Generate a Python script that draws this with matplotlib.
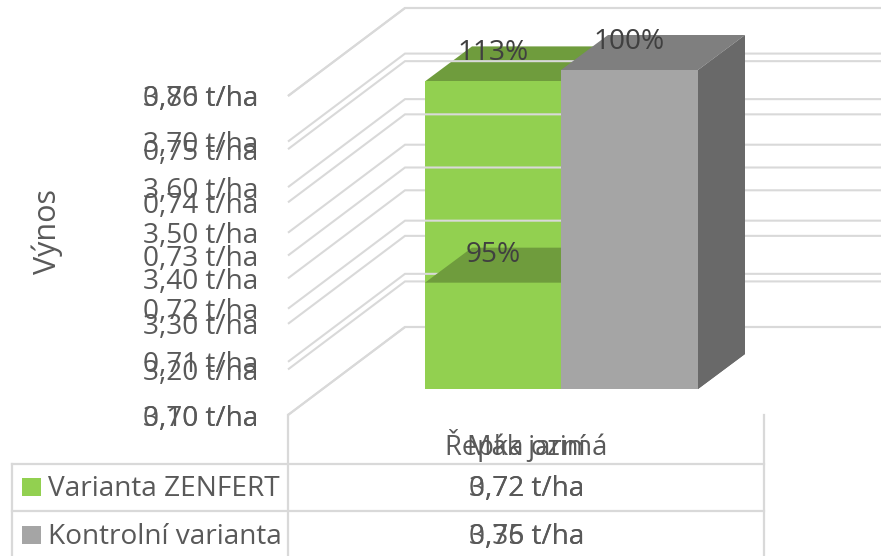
import matplotlib
matplotlib.use("Agg")
from matplotlib import pyplot as plt

# two charts lying on top of each other in the source picture
categories = ["Řepka ozimá", "Mák jarní"]
series = ["Varianta ZENFERT", "Kontrolní varianta"]

repka_ticks = [3.10, 3.20, 3.30, 3.40, 3.50, 3.60, 3.70, 3.80]
mak_ticks = [0.70, 0.71, 0.72, 0.73, 0.74, 0.75, 0.76]

repka_values = [3.775, 3.35]
mak_values = [0.72, 0.76]
repka_labels = ["113%", "100%"]
mak_labels = ["95%", "100%"]
repka_table = ["3,72 t/ha", "3,35 t/ha"]
mak_table = ["0,72 t/ha", "0,76 t/ha"]

TEXT = "#595959"
LABEL = "#404040"
GRID = "#D9D9D9"
front_cols = ["#92D050", "#A5A5A5"]
top_cols = ["#6F9C3D", "#7F7F7F"]
side_cols = ["#5F8A30", "#696969"]
FONT = "Open Sans"

# 3d layout in image pixels
FLOOR = 415
WALL_H = 319
LEFT = 288
DX, DY = 117, 88
GRID_END = 881
BAR_X = [425, 561, 698]
BAR_BASE = 389
BAR_DX, BAR_DY = 47, 35

fig = plt.figure(figsize=(8.87, 5.56), dpi=100)
ax = fig.add_axes([0, 0, 1, 1])
ax.set_xlim(0, 887)
ax.set_ylim(556, 0)
ax.axis("off")


def wall_y(v, ticks):
    return FLOOR - (v - ticks[0]) / (ticks[-1] - ticks[0]) * WALL_H


def fmt(v):
    return ("%.2f t/ha" % v).replace(".", ",")


def draw_chart(ticks, values, labels, z):
    for v in ticks:
        y = wall_y(v, ticks)
        ax.plot([LEFT, LEFT + DX, GRID_END], [y, y - DY, y - DY], color=GRID,
                lw=1.5, zorder=z, solid_joinstyle="miter", solid_capstyle="butt")
        ax.text(258, y + 10.5, fmt(v), ha="right", va="baseline", fontsize=20.2,
                color=TEXT, family=FONT, zorder=z + 5)
    for i, v in enumerate(values):
        x0, x1 = BAR_X[i], BAR_X[i + 1]
        h = (v - ticks[0]) / (ticks[-1] - ticks[0]) * WALL_H
        top = BAR_BASE - h
        ax.fill([x0, x1, x1 + BAR_DX, x0 + BAR_DX], [top, top, top - BAR_DY, top - BAR_DY],
                color=top_cols[i], lw=0, zorder=z + 1 + i)
        ax.fill([x1, x1 + BAR_DX, x1 + BAR_DX, x1],
                [top, top - BAR_DY, BAR_BASE - BAR_DY, BAR_BASE],
                color=side_cols[i], lw=0, zorder=z + 1 + i)
        ax.fill([x0, x1, x1, x0], [top, top, BAR_BASE, BAR_BASE],
                color=front_cols[i], lw=0, zorder=z + 1 + i)
    for i, v in enumerate(values):
        h = (v - ticks[0]) / (ticks[-1] - ticks[0]) * WALL_H
        xm = (BAR_X[i] + BAR_X[i + 1]) / 2
        ax.text(xm, BAR_BASE - h - 21, labels[i], ha="center", va="baseline", fontsize=20.2,
                color=LABEL, family=FONT, zorder=z + 5)


draw_chart(repka_ticks, repka_values, repka_labels, 1)
draw_chart(mak_ticks, mak_values, mak_labels, 10)

# table below the plot
for y in [464, 511]:
    ax.plot([12, 764], [y, y], color=GRID, lw=1.6, zorder=20)
ax.plot([12, 12], [464, 556], color=GRID, lw=1.6, zorder=20)
for x in [288, 764]:
    ax.plot([x, x], [415, 556], color=GRID, lw=1.6, zorder=20)

for cat in categories:
    ax.text(526.5, 455, cat, ha="center", va="baseline", fontsize=19.7, color=TEXT,
            family=FONT, zorder=21)

row_base = [496, 544]
for i, name in enumerate(series):
    ax.fill([22, 41, 41, 22], [row_base[i] - 18, row_base[i] - 18, row_base[i], row_base[i]],
            color=front_cols[i], lw=0, zorder=21)
    ax.text(48, row_base[i], name, ha="left", va="baseline", fontsize=20.2, color=TEXT,
            family=FONT, zorder=21)
    ax.text(526.5, row_base[i], repka_table[i], ha="center", va="baseline", fontsize=20.2,
            color=TEXT, family=FONT, zorder=21)
    ax.text(526.5, row_base[i], mak_table[i], ha="center", va="baseline", fontsize=20.2,
            color=TEXT, family=FONT, zorder=21)

ax.text(47, 232, "Výnos", rotation=90, ha="center", va="center", fontsize=22,
        color=TEXT, family=FONT, zorder=21)

fig.savefig("out.png", dpi=100)
